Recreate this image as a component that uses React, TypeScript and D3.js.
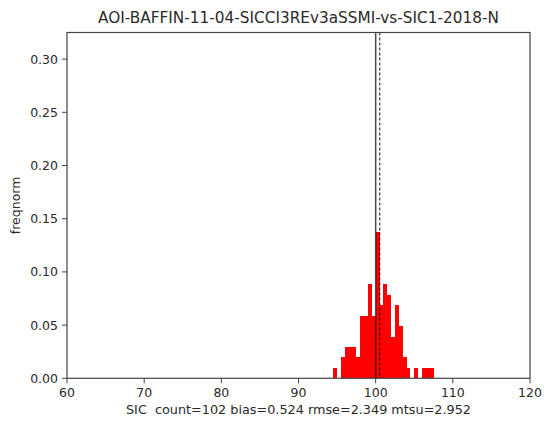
import React from "react";
import * as d3 from "d3";

const binStarts = [94.5, 95, 95.5, 96, 96.5, 97, 97.5, 98, 98.5, 99, 99.5, 100, 100.5, 101, 101.5, 102, 102.5, 103, 103.5, 104, 104.5, 105, 105.5, 106, 106.5, 107];
const binCounts = [1, 0, 2, 3, 3, 3, 2, 6, 6, 9, 6, 14, 7, 9, 8, 4, 7, 5, 2, 1, 0, 1, 0, 1, 1, 1];
const binWidth = 0.5;
const totalCount = 102;
const refValue = 100;
const bias = 0.524;
const xTicks = [60, 70, 80, 90, 100, 110, 120];
const yTicks = [0, 0.05, 0.1, 0.15, 0.2, 0.25, 0.3];
const title = "AOI-BAFFIN-11-04-SICCI3REv3aSSMI-vs-SIC1-2018-N";
const xLabel = "SIC  count=102 bias=0.524 rmse=2.349 mtsu=2.952";
const yLabel = "freqnorm";

export default function App() {
  const W = 544, H = 421;
  const m = { l: 67, r: 530, t: 32.5, b: 378.3 };
  const x = d3.scaleLinear().domain([60, 120]).range([m.l, m.r]);
  const y = d3.scaleLinear().domain([0, 0.325]).range([m.b, m.t]);
  const font = "DejaVu Sans, sans-serif";
  const txt = "#2a2a2a";
  return (
    <svg width={W} height={H} style={{ position: "absolute", left: 0, top: 0, background: "#fff" }}>
      <text x={(m.l + m.r) / 2} y={23} textAnchor="middle" fontFamily={font} fontSize={15.3} fill={txt}>{title}</text>
      {binStarts.map((s, i) =>
        binCounts[i] > 0 ? (
          <rect key={i} x={x(s)} width={x(s + binWidth) - x(s)} y={y(binCounts[i] / totalCount)}
            height={m.b - y(binCounts[i] / totalCount)} fill="#ff0000" shapeRendering="crispEdges" />
        ) : null
      )}
      <line x1={x(refValue)} x2={x(refValue)} y1={m.t} y2={m.b} stroke="#000" strokeWidth={1.5} opacity={0.7} />
      <line x1={x(refValue + bias)} x2={x(refValue + bias)} y1={m.t} y2={m.b} stroke="#000" strokeWidth={1.3} strokeDasharray="3,2" opacity={0.7} />
      <rect x={m.l} y={m.t} width={m.r - m.l} height={m.b - m.t} fill="none" stroke="#444" strokeWidth={1.2} />
      {xTicks.map((t) => (
        <g key={t}>
          <line x1={x(t)} x2={x(t)} y1={m.b} y2={m.b + 5} stroke="#444" />
          <text x={x(t)} y={m.b + 19} textAnchor="middle" fontFamily={font} fontSize={12.5} fill={txt}>{t}</text>
        </g>
      ))}
      {yTicks.map((t) => (
        <g key={t}>
          <line x1={m.l - 5} x2={m.l} y1={y(t)} y2={y(t)} stroke="#444" />
          <text x={m.l - 9} y={y(t) + 4.5} textAnchor="end" fontFamily={font} fontSize={12.5} fill={txt}>{t.toFixed(2)}</text>
        </g>
      ))}
      <text x={(m.l + m.r) / 2} y={414} textAnchor="middle" fontFamily={font} fontSize={12.8} fill={txt} style={{ whiteSpace: "pre" }}>{xLabel}</text>
      <text transform={`translate(20,${(m.t + m.b) / 2}) rotate(-90)`} textAnchor="middle" fontFamily={font} fontSize={12.5} fill={txt}>{yLabel}</text>
    </svg>
  );
}
